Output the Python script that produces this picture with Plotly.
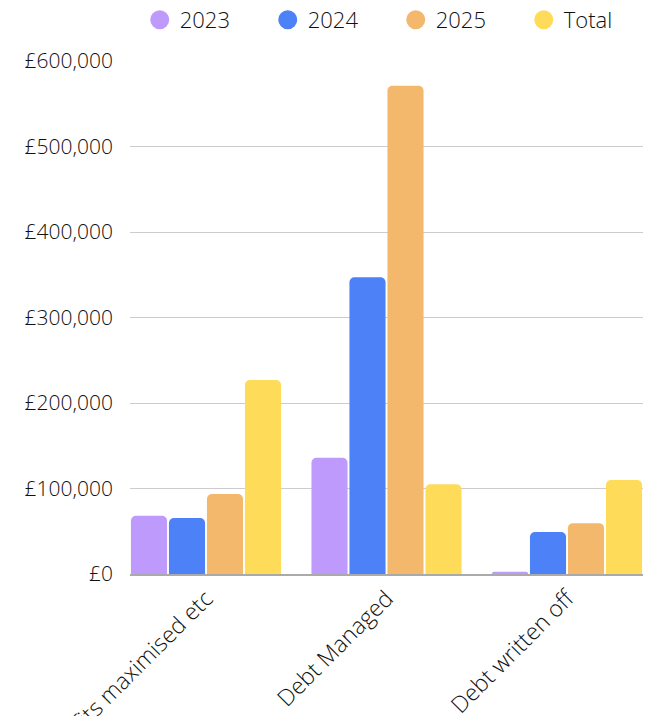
import plotly.graph_objects as go

categories = ["Benefits maximised etc", "Debt Managed", "Debt written off"]
series_names = ["2023", "2024", "2025", "Total"]
values_2023 = [68000, 136000, 2500]
values_2024 = [65500, 347000, 49000]
values_2025 = [93500, 571000, 59500]
values_total = [227000, 105000, 110000]
colors = ["#BD9AFC", "#4C81F7", "#F3B86C", "#FEDC5A"]

all_values = [values_2023, values_2024, values_2025, values_total]

fig = go.Figure()
for name, vals, col in zip(series_names, all_values, colors):
    fig.add_trace(go.Bar(
        x=categories, y=vals, name=name, showlegend=False,
        marker=dict(color=col, line=dict(width=0), cornerradius=5),
    ))
for name, col in zip(series_names, colors):
    fig.add_trace(go.Scatter(
        x=[None], y=[None], mode="markers", name=name,
        marker=dict(color=col, size=16, symbol="circle", line=dict(color=col, width=3)),
    ))

font_family = "'Open Sans', 'Noto Sans', sans-serif"
fig.update_layout(
    width=646, height=708,
    margin=dict(l=122, r=11, t=53, b=142, autoexpand=False),
    paper_bgcolor="white", plot_bgcolor="white",
    barmode="group", bargap=0.158, bargroupgap=0.05,
    font=dict(family=font_family, size=19, color="#111111", weight=300),
    legend=dict(orientation="h", x=0.019, xanchor="left", y=1.08, yanchor="middle",
                font=dict(size=22, weight=300), entrywidth=83, entrywidthmode="pixels",
                itemsizing="trace", bgcolor="rgba(0,0,0,0)"),
    xaxis=dict(type="category", range=[-0.421, 2.421], tickangle=-45,
               showgrid=False, showline=True, linecolor="#aaaaaa", linewidth=2,
               ticks="", automargin=False, tickfont=dict(size=23, weight=300)),
    yaxis=dict(range=[0, 600000], dtick=100000, tickprefix="£", tickformat=",.0f",
               showgrid=True, gridcolor="#cccccc", gridwidth=1, zeroline=False,
               showline=False, ticks="", ticklabelstandoff=16, automargin=False,
               tickfont=dict(size=21, weight=300)),
)

fig.write_html("out.html")
